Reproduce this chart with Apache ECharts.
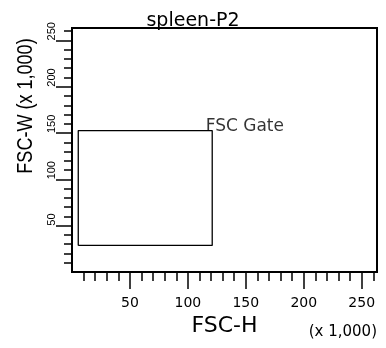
<!DOCTYPE html>
<html>
<head>
<meta charset="utf-8">
<script src="https://cdn.jsdelivr.net/npm/echarts@6/dist/echarts.min.js"></script>
<style>
html,body{margin:0;padding:0;background:#fff;}
#c{width:386px;height:348px;}
</style>
</head>
<body>
<div id="c"></div>
<script>
// ---- data ----
var titleText = 'spleen-P2';
var xName = 'FSC-H';
var yName = 'FSC-W (x 1,000)';
var xUnit = '(x 1,000)';
var gateName = 'FSC Gate';
var xRange = [0, 263.2];
var yRange = [0, 263.4];
var xMajorTicks = [50, 100, 150, 200, 250];
var yMajorTicks = [50, 100, 150, 200, 250];
var xMinorTicks = [10,20,30,40,50,60,70,80,90,100,110,120,130,140,150,160,170,180,190,200,210,220,230,240,250,260];
var yMinorTicks = [10,20,30,40,50,60,70,80,90,100,110,120,130,140,150,160,170,180,190,200,210,220,230,240,250,260];
// gate rectangle (x 1,000)
var gateX = [5.4, 121.0];
var gateY = [28.7, 152.7];

var gatePath = [
  [gateX[0], gateY[0]], [gateX[1], gateY[0]], [gateX[1], gateY[1]],
  [gateX[0], gateY[1]], [gateX[0], gateY[0]]
];

var chart = echarts.init(document.getElementById('c'), null, {renderer: 'canvas'});
var tickStyle = {color: '#000', width: 1.5};
function baseAxis(range) {
  return {
    type: 'value', min: range[0], max: range[1],
    axisLine: {show: false}, splitLine: {show: false}
  };
}
var xMinor = Object.assign(baseAxis(xRange), {
  position: 'bottom',
  axisTick: {show: true, customValues: xMinorTicks, length: 9, lineStyle: tickStyle},
  axisLabel: {show: false}
});
var xMajor = Object.assign(baseAxis(xRange), {
  position: 'bottom',
  axisTick: {show: true, customValues: xMajorTicks, length: 17, lineStyle: tickStyle},
  axisLabel: {show: true, customValues: xMajorTicks, color: '#000', fontFamily: 'DejaVu Sans', fontSize: 14, margin: 24},
  name: xName, nameLocation: 'middle', nameGap: 40,
  nameTextStyle: {color: '#000', fontFamily: 'DejaVu Sans', fontSize: 22}
});
var yMinor = Object.assign(baseAxis(yRange), {
  position: 'left',
  axisTick: {show: true, customValues: yMinorTicks, length: 8, lineStyle: tickStyle},
  axisLabel: {show: false}
});
var yMajor = Object.assign(baseAxis(yRange), {
  position: 'left',
  axisTick: {show: true, customValues: yMajorTicks, length: 16, lineStyle: tickStyle},
  axisLabel: {show: true, customValues: yMajorTicks, rotate: 90, align: 'left', verticalAlign: 'bottom',
    color: '#000', fontFamily: 'Liberation Sans', fontSize: 11, margin: 15}
});

chart.setOption({
  animation: false,
  backgroundColor: '#fff',
  title: {
    text: titleText, left: 'center', top: 7,
    textStyle: {color: '#000', fontFamily: 'DejaVu Sans', fontSize: 19, fontWeight: 'normal'}
  },
  grid: {left: 72, top: 28, width: 305, height: 244, show: true, borderColor: '#000', borderWidth: 2, backgroundColor: 'transparent'},
  xAxis: [xMinor, xMajor],
  yAxis: [yMinor, yMajor],
  graphic: [
    {type: 'text', x: 25.5, y: 106, rotation: Math.PI / 2, scaleX: 0.82,
     style: {text: yName, fill: '#000', font: '22px "Liberation Sans"', align: 'center', verticalAlign: 'middle'}},
    {type: 'text', x: 377, y: 332.5,
     style: {text: xUnit, fill: '#000', font: '15px "DejaVu Sans"', align: 'right', verticalAlign: 'middle'}}
  ],
  series: [
    {type: 'line', xAxisIndex: 0, yAxisIndex: 0, data: gatePath, symbol: 'none',
     lineStyle: {color: '#000', width: 1.3}, silent: true},
    {type: 'scatter', xAxisIndex: 0, yAxisIndex: 0, data: [[gateX[1], gateY[1]]],
     symbolSize: 1, itemStyle: {color: 'transparent'}, silent: true,
     label: {show: true, formatter: gateName, position: 'right', distance: 0, offset: [-7, -4],
       color: '#000', fontFamily: 'DejaVu Sans', fontSize: 17}}
  ]
});
</script>
</body>
</html>
